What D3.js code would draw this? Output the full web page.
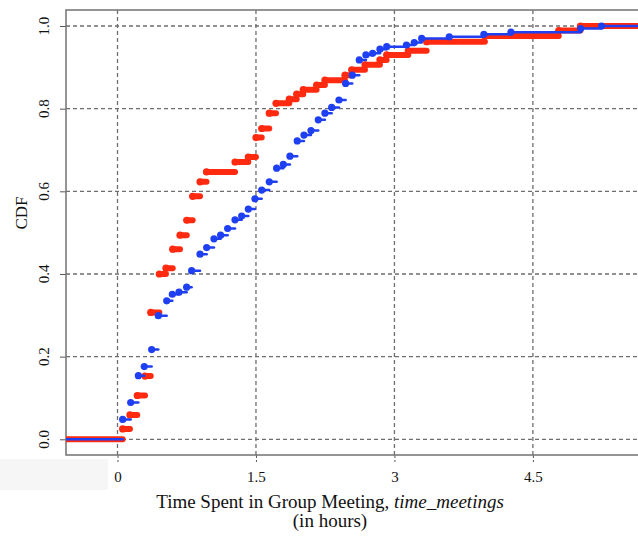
<!DOCTYPE html>
<html>
<head>
<meta charset="utf-8">
<script src="https://cdn.jsdelivr.net/npm/d3@7"></script>
<style>
  body { margin: 0; background: #fff; }
  text { font-family: "Liberation Serif", "Times New Roman", serif; fill: #111; }
</style>
</head>
<body>
<script>
"use strict";

// step points of the two CDFs (hours, cumulative fraction)
var redX = [0.056, 0.135, 0.214, 0.298, 0.36, 0.453, 0.525, 0.598, 0.677, 0.75, 0.814, 0.894, 0.964,
            1.273, 1.417, 1.50, 1.562, 1.644, 1.717, 1.861, 1.941, 2.012, 2.157, 2.247, 2.464, 2.537,
            2.681, 2.843, 2.916, 3.15, 3.349, 3.98, 4.78, 5.015];
var redY = [0.025, 0.059, 0.106, 0.153, 0.307, 0.40, 0.414, 0.46, 0.494, 0.53, 0.588, 0.623, 0.647,
            0.671, 0.683, 0.73, 0.752, 0.789, 0.813, 0.823, 0.835, 0.846, 0.857, 0.869, 0.881, 0.894,
            0.906, 0.918, 0.930, 0.940, 0.962, 0.976, 0.989, 1.0];

var blueX = [0.056, 0.143, 0.226, 0.29, 0.37, 0.442, 0.533, 0.594, 0.666, 0.749, 0.803, 0.894, 0.966,
             1.045, 1.117, 1.193, 1.273, 1.345, 1.417, 1.489, 1.562, 1.644, 1.724, 1.796, 1.868, 1.947,
             2.02, 2.096, 2.175, 2.247, 2.32, 2.399, 2.471, 2.543, 2.619, 2.691, 2.764, 2.843, 2.916,
             3.13, 3.215, 3.295, 3.594, 3.969, 4.262, 5.017, 5.244];
var blueY = [0.048, 0.089, 0.154, 0.176, 0.217, 0.299, 0.335, 0.351, 0.356, 0.368, 0.408, 0.448, 0.464,
             0.485, 0.494, 0.51, 0.531, 0.54, 0.557, 0.582, 0.603, 0.623, 0.656, 0.665, 0.685, 0.722,
             0.736, 0.747, 0.773, 0.789, 0.803, 0.821, 0.861, 0.881, 0.918, 0.930, 0.934, 0.944, 0.95,
             0.954, 0.96, 0.97, 0.974, 0.98, 0.985, 0.994, 1.0];

var xTicks = [0, 1.5, 3, 4.5];
var xTickLabels = ["0", "1.5", "3", "4.5"];
var yTicks = [0, 0.2, 0.4, 0.6, 0.8, 1.0];
var yTickLabels = ["0.0", "0.2", "0.4", "0.6", "0.8", "1.0"];

function mainPlot(){
  var width = 638,
      height = 539;
  var pLeft = 66, pRight = 645, pTop = 10, pBottom = 455;

  var svg = d3.select("body")
    .append("svg")
    .attr("width", width)
    .attr("height", height);

  var x = d3.scaleLinear().domain([0, 4.5]).range([117.5, 532.9]);
  var y = d3.scaleLinear().domain([0, 1]).range([439.3, 26]);

  // faint patch bottom-left, from the scan
  svg.append("rect")
    .attr("x", 0).attr("y", 459).attr("width", 108).attr("height", 31)
    .attr("fill", "#f6f6f6");

  svg.append("clipPath").attr("id", "plotclip")
    .append("rect")
    .attr("x", pLeft).attr("y", pTop).attr("width", pRight - pLeft).attr("height", pBottom - pTop);

  // grid
  svg.append("g").selectAll("line")
    .data(xTicks).enter().append("line")
      .attr("x1", function(d){ return x(d); })
      .attr("x2", function(d){ return x(d); })
      .attr("y1", pTop).attr("y2", pBottom)
      .style("stroke", "#6e6e6e")
      .style("stroke-width", 1.3)
      .style("stroke-dasharray", "4,3");

  svg.append("g").selectAll("line")
    .data(yTicks).enter().append("line")
      .attr("x1", pLeft).attr("x2", pRight)
      .attr("y1", function(d){ return y(d); })
      .attr("y2", function(d){ return y(d); })
      .style("stroke", "#6e6e6e")
      .style("stroke-width", 1.3)
      .style("stroke-dasharray", "4,3");

  // axes: d3 ticks, own labels on y
  var xAxis = svg.append("g")
    .attr("transform", "translate(0," + pBottom + ")")
    .call(d3.axisBottom(x).tickValues(xTicks)
          .tickFormat(function(d, i){ return xTickLabels[i]; })
          .tickSize(7).tickPadding(9));
  xAxis.select(".domain").remove();
  xAxis.selectAll("line").style("stroke", "#555").style("stroke-dasharray", "3,2");
  xAxis.selectAll("text")
    .style("font-family", "'Liberation Serif', serif")
    .style("font-size", "15px")
    .style("fill", "#111");

  var yAxis = svg.append("g")
    .attr("transform", "translate(" + pLeft + ",0)")
    .call(d3.axisLeft(y).tickValues(yTicks).tickFormat("").tickSize(6));
  yAxis.select(".domain").remove();
  yAxis.selectAll("line").style("stroke", "#555");

  svg.append("g").selectAll("text")
    .data(yTicks).enter().append("text")
      .attr("transform", function(d){ return "translate(48.5," + y(d) + ") rotate(-90)"; })
      .attr("text-anchor", "middle")
      .style("font-size", "15px")
      .text(function(d, i){ return yTickLabels[i]; });

  // box
  svg.append("rect")
    .attr("x", pLeft).attr("y", pTop)
    .attr("width", pRight - pLeft).attr("height", pBottom - pTop)
    .attr("fill", "none")
    .style("stroke", "#7a7a7a")
    .style("stroke-width", 1.6);

  function steps(xs, ys){
    var segs = [{x1: x.invert(pLeft), x2: xs[0], y: 0}];
    for (var i = 0; i < xs.length; i++) {
      segs.push({x1: xs[i], x2: i < xs.length - 1 ? xs[i + 1] : x.invert(pRight), y: ys[i]});
    }
    return segs;
  }

  var plot = svg.append("g").attr("clip-path", "url(#plotclip)");

  function drawSeries(xs, ys, color, lw, r){
    var g = plot.append("g");
    g.selectAll("line")
      .data(steps(xs, ys)).enter().append("line")
        .attr("x1", function(d){ return x(d.x1); })
        .attr("x2", function(d){ return x(d.x2); })
        .attr("y1", function(d){ return y(d.y); })
        .attr("y2", function(d){ return y(d.y); })
        .style("stroke", color)
        .style("stroke-width", lw)
        .style("stroke-linecap", "round");
    g.selectAll("circle")
      .data(xs).enter().append("circle")
        .attr("cx", function(d){ return x(d); })
        .attr("cy", function(d, i){ return y(ys[i]); })
        .attr("r", r)
        .style("fill", color);
  }

  drawSeries(redX, redY, "#ff2a10", 6, 3.6);
  drawSeries(blueX, blueY, "#1f3ff2", 2.5, 3.6);

  // labels
  svg.append("text")
    .attr("transform", "translate(27,213) rotate(-90)")
    .attr("text-anchor", "middle")
    .style("font-size", "17px")
    .text("CDF");

  var title = svg.append("text")
    .attr("x", 330).attr("y", 508)
    .attr("text-anchor", "middle")
    .style("font-size", "19px");
  title.append("tspan").text("Time Spent in Group Meeting, ");
  title.append("tspan").style("font-style", "italic").text("time_meetings");

  svg.append("text")
    .attr("x", 330).attr("y", 527)
    .attr("text-anchor", "middle")
    .style("font-size", "19px")
    .text("(in hours)");
}

mainPlot();
</script>
</body>
</html>
